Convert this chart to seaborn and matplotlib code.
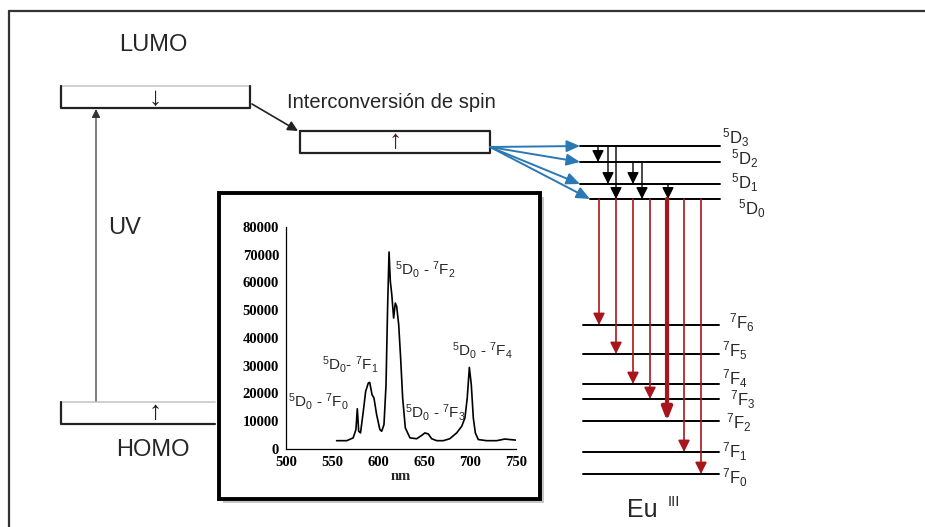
import matplotlib
matplotlib.use('Agg')
import matplotlib.pyplot as plt
from matplotlib.patches import Rectangle
import numpy as np
import pandas as pd
import seaborn as sns

# Emission spectrum
wavelength = [555, 566, 573, 576, 577.5, 579, 581, 584, 586.6, 589.5, 591, 593.5, 595.6,
              598.5, 602, 604, 606.5, 608.7, 610.5, 612, 613.4, 615, 617, 618.8, 620.3,
              622.5, 624.6, 626.8, 629.7, 634.8, 642, 647.5, 651, 654.7, 658.3, 663.8,
              671, 678, 685.5, 691, 694.5, 697, 699.3, 701.4, 703.6, 705.8, 709, 718,
              729, 738, 743.5, 750]
intensity = [3000, 3000, 4000, 7000, 14500, 6400, 5800, 13500, 20800, 23800, 24000, 19600,
             18400, 12400, 7000, 6400, 8800, 23000, 52000, 71000, 60400, 55600, 47200,
             52600, 51400, 44800, 32800, 18400, 7600, 4000, 3700, 4900, 5800, 5400, 3700,
             3000, 3000, 3700, 5800, 8200, 11200, 18400, 29400, 23200, 11200, 5800, 3400,
             3000, 3000, 3600, 3400, 3200]
peak_labels = ['$^5$D$_0$ - $^7$F$_0$', '$^5$D$_0$- $^7$F$_1$', '$^5$D$_0$ - $^7$F$_2$',
               '$^5$D$_0$ - $^7$F$_3$', '$^5$D$_0$ - $^7$F$_4$']
peak_label_pos = [(502.5, 17200), (539, 30400), (618.5, 64600), (629.5, 13000), (680, 35500)]

# Eu(III) levels (diagram height, px from top)
d_names = ['$^5$D$_3$', '$^5$D$_2$', '$^5$D$_1$', '$^5$D$_0$']
d_y = [146, 162, 184, 199]
f_names = ['$^7$F$_6$', '$^7$F$_5$', '$^7$F$_4$', '$^7$F$_3$', '$^7$F$_2$', '$^7$F$_1$', '$^7$F$_0$']
f_y = [325, 354, 384, 399, 421, 452, 474]
# non-radiative relaxations inside the 5D manifold: (from, to)
d_relax = [(0, 1), (0, 2), (0, 3), (1, 2), (1, 3), (2, 3)]

sns.set_theme(style='white')
plt.rcParams['font.family'] = ['Liberation Sans', 'DejaVu Sans']
plt.rcParams['mathtext.fontset'] = 'custom'
plt.rcParams['mathtext.rm'] = 'Liberation Sans'
plt.rcParams['mathtext.default'] = 'rm'

fig = plt.figure(figsize=(9.25, 5.27), dpi=100)
ax = fig.add_axes([0, 0, 1, 1])
ax.set_xlim(0, 925)
ax.set_ylim(527, 0)
ax.axis('off')

def arrow(x0, y0, x1, y1, color='black', lw=1.0, hl=0.6, hw=0.3, ms=10, z=3):
    ax.annotate('', xy=(x1, y1), xytext=(x0, y0),
                arrowprops=dict(arrowstyle=f'-|>,head_length={hl},head_width={hw}',
                                color=color, lw=lw, mutation_scale=ms,
                                shrinkA=0, shrinkB=0), zorder=z)

# outer frame
ax.plot([9, 925], [11, 11], color='#333333', lw=1.6)
ax.plot([9, 9], [11, 527], color='#333333', lw=1.6)

# LUMO box
ax.plot([61, 250], [86, 86], color='#c8c8c8', lw=1.2)
ax.plot([61, 61, 250, 250], [86, 108, 108, 86], color='#222222', lw=1.6)
ax.text(155, 98, '↓', ha='center', va='center', fontsize=19, color='#222222')
ax.text(153, 45, 'LUMO', ha='center', va='center', fontsize=17)

# HOMO box
ax.plot([61, 215], [402, 402], color='#c8c8c8', lw=1.2)
ax.plot([61, 61, 215], [402, 424, 424], color='#222222', lw=1.6)
ax.text(155, 412, '↑', ha='center', va='center', fontsize=19, color='#1a1a30')
ax.text(153, 450, 'HOMO', ha='center', va='center', fontsize=17)

# UV excitation
arrow(96, 401, 96, 109, color='#333333', lw=0.9, hl=0.5, hw=0.25, ms=10)
ax.text(108, 228, 'UV', ha='left', va='center', fontsize=17)

# intersystem crossing to triplet
arrow(252, 104, 298, 131, color='#222222', lw=1.2, hl=0.6, hw=0.3, ms=10)
ax.text(287, 103, 'Interconversión de spin', ha='left', va='center', fontsize=14.5)
ax.plot([300, 490, 490, 300, 300], [131, 131, 153, 153, 131], color='#222222', lw=1.6)
ax.text(395, 141, '↑', ha='center', va='center', fontsize=19, color='#4a1515')

# energy transfer to Eu(III) 5D levels
d_x0 = [580, 580, 580, 590]
for y, x0 in zip(d_y, d_x0):
    arrow(490, 147, x0, y, color='#2a78b4', lw=1.4, hl=0.8, hw=0.35, ms=10)
    ax.plot([x0, 720], [y, y], color='black', lw=1.4, zorder=2)

label_x_d = [722, 731, 731, 738]
label_dy_d = [-8, -3, -1, 10]
for name, y, lx, dy in zip(d_names, d_y, label_x_d, label_dy_d):
    ax.text(lx, y + dy, name, ha='left', va='center', fontsize=12)

relax_x = [598, 608, 616, 633, 642, 668]
for (i, j), x in zip(d_relax, relax_x):
    arrow(x, d_y[i], x, d_y[j], color='black', lw=1.0, hl=0.7, hw=0.35, ms=10)

# 7F levels
for y in f_y:
    ax.plot([583, 719], [y, y], color='black', lw=1.4, zorder=2)
label_x_f = [729, 722, 722, 730, 726, 722, 722]
label_dy_f = [-2, -3, -5, 1, 2, 0, 4]
for name, y, lx, dy in zip(f_names, f_y, label_x_f, label_dy_f):
    ax.text(lx, y + dy, name, ha='left', va='center', fontsize=12)

# radiative 5D0 -> 7FJ emissions
em_x = 599 + 17 * np.arange(len(f_y))
for k, (x, y) in enumerate(zip(em_x, f_y)):
    if f_names[k] == '$^7$F$_2$':
        arrow(x, d_y[-1], x, y, color='#a8161c', lw=3.0, hl=0.38, hw=0.15, ms=20)
    else:
        arrow(x, d_y[-1], x, y, color='#a8161c', lw=1.2, hl=0.7, hw=0.35, ms=10)

ax.text(627, 510, 'Eu', ha='left', va='center', fontsize=18)
ax.text(668, 502, 'III', ha='left', va='center', fontsize=10.5)

# inset frame
ax.add_patch(Rectangle((223, 197), 321, 306, facecolor='#a0a0a0', edgecolor='none',
                       alpha=0.6, zorder=4))
ax.add_patch(Rectangle((219, 193), 321, 306, facecolor='white', edgecolor='black',
                       lw=2.8, zorder=5))

# inset spectrum
spec = pd.DataFrame({'nm': wavelength, 'I': intensity})
ins = fig.add_axes([286 / 925, (527 - 449) / 527, 230 / 925, 222 / 527])
ins.set_facecolor('none')
sns.lineplot(data=spec, x='nm', y='I', ax=ins, color='black', lw=1.2,
             sort=False, estimator=None)
ins.set_xlim(500, 750)
ins.set_ylim(0, 80000)
ins.set_xticks(range(500, 751, 50))
ins.set_yticks(range(0, 80001, 10000))
for s in ['top', 'right']:
    ins.spines[s].set_visible(False)
for s in ['left', 'bottom']:
    ins.spines[s].set_color('black')
    ins.spines[s].set_linewidth(0.9)
ins.tick_params(direction='out', length=3, width=0.8, pad=2, colors='black')
for t in ins.get_xticklabels() + ins.get_yticklabels():
    t.set_family('Liberation Serif')
    t.set_fontweight('bold')
    t.set_fontsize(10.5)
ins.set_xlabel('nm', family='Liberation Serif', fontweight='bold', fontsize=10.5, labelpad=1)
ins.set_ylabel('')
for lab, (px, py) in zip(peak_labels, peak_label_pos):
    ins.text(px, py, lab, ha='left', va='center', fontsize=11, clip_on=False)

fig.savefig('out.png', dpi=100)
